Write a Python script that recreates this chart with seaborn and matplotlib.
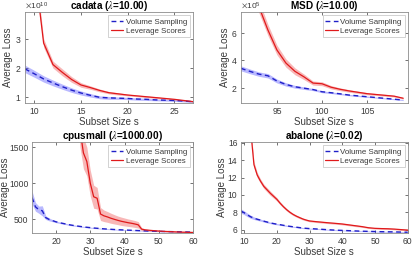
import matplotlib
matplotlib.use("Agg")
import matplotlib.pyplot as plt
import seaborn as sns
from matplotlib.ticker import ScalarFormatter

# ---- data ----
# cadata, loss in units of 1e10
cad_s = [9, 10, 11, 12, 13, 14, 15, 16, 17, 18, 19, 20, 21, 22, 23, 24, 25, 26, 27]
cad_vol = [1.97, 1.80, 1.62, 1.48, 1.35, 1.23, 1.13, 1.05, 0.98, 0.96, 0.95, 0.94, 0.92, 0.91, 0.89, 0.88, 0.87, 0.85, 0.83]
cad_vol_err = [0.13, 0.12, 0.11, 0.10, 0.09, 0.08, 0.07, 0.06, 0.05, 0.05, 0.04, 0.04, 0.04, 0.04, 0.03, 0.03, 0.03, 0.03, 0.03]
cad_lev = [8.0, 5.6, 2.87, 2.12, 1.85, 1.60, 1.41, 1.32, 1.22, 1.14, 1.10, 1.06, 1.03, 1.00, 0.97, 0.94, 0.91, 0.87, 0.83]
cad_lev_err = [0.4, 0.3, 0.15, 0.12, 0.12, 0.10, 0.08, 0.06, 0.05, 0.04, 0.04, 0.03, 0.03, 0.03, 0.03, 0.02, 0.02, 0.02, 0.02]

# MSD, loss in units of 1e5
msd_s = [91, 92, 93, 94, 95, 96, 97, 98, 99, 100, 101, 102, 103, 104, 105, 106, 107, 108, 109]
msd_vol = [3.42, 3.20, 3.00, 2.88, 2.50, 2.25, 2.08, 1.98, 1.88, 1.72, 1.65, 1.57, 1.48, 1.42, 1.36, 1.30, 1.24, 1.18, 1.12]
msd_vol_err = [0.18, 0.17, 0.16, 0.16, 0.14, 0.12, 0.10, 0.09, 0.08, 0.07, 0.06, 0.06, 0.05, 0.05, 0.05, 0.04, 0.04, 0.04, 0.04]
msd_lev = [11.0, 9.5, 7.9, 6.2, 4.75, 3.8, 3.2, 2.8, 2.35, 2.3, 2.05, 1.9, 1.78, 1.68, 1.58, 1.52, 1.46, 1.40, 1.25]
msd_lev_err = [0.6, 0.5, 0.45, 0.4, 0.35, 0.3, 0.25, 0.2, 0.15, 0.14, 0.12, 0.1, 0.09, 0.08, 0.08, 0.07, 0.07, 0.06, 0.06]

# cpusmall
cpu_s = list(range(13, 61))
cpu_vol = [800, 670, 630, 615, 520, 495, 478, 462, 450, 440, 430, 420, 412, 405, 398, 392,
           386, 381, 376, 372, 368, 364, 361, 358, 355, 352, 350, 348, 346, 344, 342, 340,
           338, 336, 334, 333, 331, 330, 328, 327, 326, 325, 324, 323, 322, 321, 320, 319]
cpu_vol_err = [90, 60, 50, 70, 25, 20, 15, 12, 10, 10, 9, 9, 8, 8, 8, 7,
               7, 7, 7, 6, 6, 6, 6, 6, 6, 5, 5, 5, 5, 5, 5, 5,
               5, 5, 5, 5, 5, 5, 5, 5, 4, 4, 4, 4, 4, 4, 4, 4]
cpu_lev_s = list(range(26, 61))
cpu_lev = [2600, 1750, 1420, 1300, 1000, 810, 790, 570, 545, 530, 512, 497, 483, 470, 460, 450,
           442, 432, 420, 360, 350, 345, 341, 337, 334, 331, 328, 326, 324, 322, 320, 318,
           317, 315, 314]
cpu_lev_err = [300, 250, 220, 200, 180, 160, 150, 90, 80, 75, 70, 65, 60, 58, 55, 52,
               50, 48, 45, 20, 15, 12, 10, 9, 8, 7, 7, 6, 6, 5, 5, 5,
               5, 5, 5]

# abalone
aba_s = [9, 10, 11, 12, 13, 14, 15, 16, 17, 18, 19, 20, 21, 22, 23, 24, 25, 26, 27, 28, 29, 30,
         32, 34, 36, 38, 40, 42, 44, 46, 48, 50, 52, 54, 56, 58, 60]
aba_vol = [8.15, 7.95, 7.70, 7.48, 7.32, 7.20, 7.10, 6.98, 6.88, 6.78, 6.70, 6.63, 6.57, 6.50, 6.44, 6.38,
           6.33, 6.28, 6.23, 6.18, 6.15, 6.12, 6.08, 6.03, 5.98, 5.94, 5.91, 5.88, 5.85, 5.82, 5.80, 5.78,
           5.76, 5.75, 5.74, 5.72, 5.70]
aba_vol_err = [0.25, 0.22, 0.20, 0.18, 0.15, 0.13, 0.12, 0.11, 0.10, 0.09, 0.08, 0.08, 0.07, 0.07, 0.07, 0.06,
               0.06, 0.06, 0.06, 0.06, 0.05, 0.05, 0.05, 0.05, 0.05, 0.05, 0.05, 0.05, 0.05, 0.05, 0.05, 0.05,
               0.05, 0.05, 0.05, 0.05, 0.05]
aba_lev = [30.0, 25.0, 21.0, 17.5, 13.5, 12.3, 11.6, 11.0, 10.6, 10.2, 9.85, 9.5, 9.05, 8.65, 8.3, 8.0,
           7.75, 7.55, 7.38, 7.22, 7.1, 7.0, 6.92, 6.85, 6.78, 6.72, 6.65, 6.55, 6.45, 6.35, 6.22, 6.15,
           6.12, 6.10, 6.06, 6.00, 5.95]
aba_lev_err = [1.0, 0.8, 0.6, 0.5, 0.35, 0.3, 0.25, 0.25, 0.25, 0.25, 0.22, 0.2, 0.18, 0.16, 0.15, 0.14,
               0.13, 0.12, 0.12, 0.11, 0.1, 0.1, 0.1, 0.1, 0.1, 0.1, 0.1, 0.1, 0.1, 0.09, 0.08, 0.08,
               0.08, 0.08, 0.08, 0.08, 0.08]

BLUE = "#2020c8"
RED = "#e0191b"
GREY = "#8c8c8c"
TXT = "#3a3a3a"

sns.set_theme(style="white")
plt.rcParams["font.family"] = ["Liberation Sans", "DejaVu Sans"]
plt.rcParams["mathtext.fontset"] = "stix"

fig = plt.figure(figsize=(4.16, 2.57), dpi=100)


def panel(rect, title, s_vol, vol, vol_err, s_lev, lev, lev_err, scale,
          xlim, ylim, xticks, yticks, ylab_x):
    ax = fig.add_axes(rect)
    vol = [v * scale for v in vol]
    lev = [v * scale for v in lev]
    ax.fill_between(s_vol, [v - e * scale for v, e in zip(vol, vol_err)],
                    [v + e * scale for v, e in zip(vol, vol_err)],
                    color="#5050ff", alpha=0.4, lw=0)
    ax.fill_between(s_lev, [v - e * scale for v, e in zip(lev, lev_err)],
                    [v + e * scale for v, e in zip(lev, lev_err)],
                    color="#f06060", alpha=0.45, lw=0)
    sns.lineplot(x=s_vol, y=vol, ax=ax, color=BLUE, lw=1.0,
                 label="Volume Sampling", linestyle=(0, (3.5, 2.5)))
    sns.lineplot(x=s_lev, y=lev, ax=ax, color=RED, lw=0.9, label="Leverage Scores")
    ax.set_xlim(*xlim)
    ax.set_ylim(ylim[0] * scale, ylim[1] * scale)
    ax.set_xticks(xticks)
    ax.set_yticks([t * scale for t in yticks])
    if scale != 1:
        fmt = ScalarFormatter(useMathText=True)
        fmt.set_powerlimits((0, 0))
        ax.yaxis.set_major_formatter(fmt)
        ax.yaxis.get_offset_text().set_fontsize(6)
        ax.yaxis.get_offset_text().set_color(TXT)
    ax.set_title(title, fontsize=7.2, fontweight="bold", pad=2, color="black")
    ax.set_xlabel("Subset Size s", fontsize=7, color=TXT, labelpad=1)
    ax.set_ylabel("Average Loss", fontsize=7, color=TXT)
    ax.yaxis.set_label_coords(ylab_x, 0.5)
    ax.tick_params(axis="both", labelsize=6.2, colors=TXT, direction="in",
                   length=2, width=0.5, pad=2.5, top=True, right=True,
                   bottom=True, left=True)
    for sp in ax.spines.values():
        sp.set_color(GREY)
        sp.set_linewidth(0.6)
    leg = ax.legend(loc="upper right", fontsize=5.7, frameon=True, fancybox=False,
                    handlelength=1.6, handletextpad=0.3, borderpad=0.35,
                    labelspacing=0.2, borderaxespad=0.4)
    leg.get_frame().set_edgecolor("#b0b0b0")
    leg.get_frame().set_linewidth(0.5)
    for t in leg.get_texts():
        t.set_color(TXT)
    return ax


panel([0.060, 0.599, 0.404, 0.354], "cadata ($\\lambda$=10.00)",
      cad_s, cad_vol, cad_vol_err, cad_s, cad_lev, cad_lev_err, 1e10,
      (9, 27), (0.78, 3.95), [10, 15, 20, 25], [1, 2, 3], -0.072)
panel([0.579, 0.599, 0.401, 0.354], "MSD ($\\lambda$=10.00)",
      msd_s, msd_vol, msd_vol_err, msd_s, msd_lev, msd_lev_err, 1e5,
      (91, 109.5), (0.9, 7.5), [95, 100, 105], [2, 4, 6], -0.065)
panel([0.077, 0.093, 0.387, 0.354], "cpusmall ($\\lambda$=1000.00)",
      cpu_s, cpu_vol, cpu_vol_err, cpu_lev_s, cpu_lev, cpu_lev_err, 1,
      (13, 60), (305, 1570), [20, 30, 40, 50, 60], [500, 1000, 1500], -0.135)
panel([0.579, 0.093, 0.401, 0.354], "abalone ($\\lambda$=0.02)",
      aba_s, aba_vol, aba_vol_err, aba_s, aba_lev, aba_lev_err, 1,
      (9, 60), (5.6, 16.1), [10, 20, 30, 40, 50, 60], [6, 8, 10, 12, 14, 16], -0.085)

fig.savefig("out.png", dpi=100)
